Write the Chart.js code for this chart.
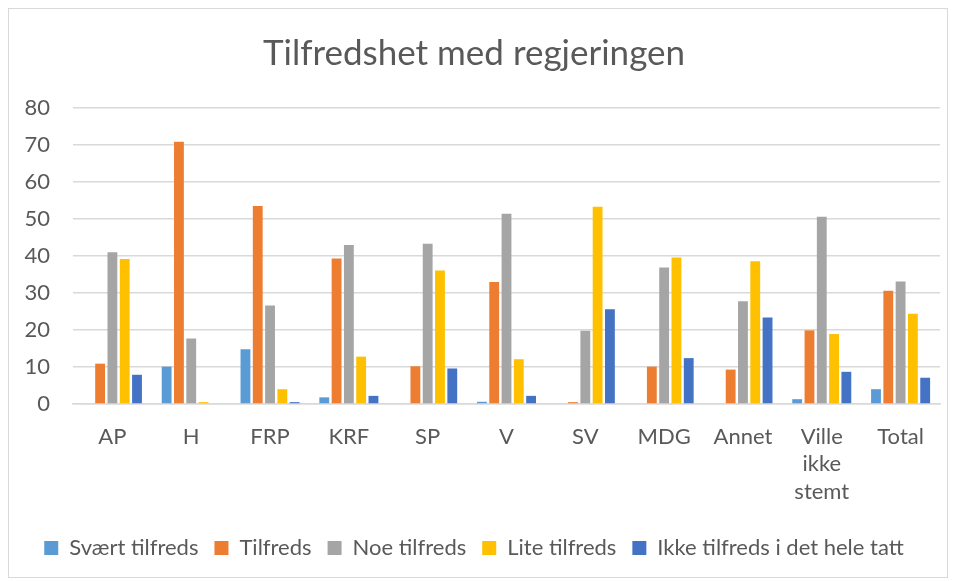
<!DOCTYPE html>
<html>
<head>
<meta charset="utf-8">
<script src="https://cdn.jsdelivr.net/npm/chart.js@4"></script>
<style>
  html, body { margin: 0; padding: 0; background: #fff; }
  #wrap { position: relative; width: 956px; height: 581px; }
  #frame { position: absolute; left: 8px; top: 8px; width: 940px; height: 570px; border: 1px solid #d9d9d9; box-sizing: border-box; pointer-events: none; }
</style>
</head>
<body>
<div id="wrap">
  <canvas id="grafica" width="956" height="581"></canvas>
  <div id="frame"></div>
</div>
<script>
// Tilfredshet med regjeringen - data
const partier = ['AP', 'H', 'FRP', 'KRF', 'SP', 'V', 'SV', 'MDG', 'Annet', ['Ville', 'ikke', 'stemt'], 'Total'];
const svaertTilfreds = [0.2, 10.1, 14.8, 1.8, 0, 0.6, 0.2, 0.2, 0.2, 1.3, 4.0];
const tilfreds = [10.9, 70.9, 53.5, 39.3, 10.2, 33.0, 0.5, 10.1, 9.3, 19.9, 30.6];
const noeTilfreds = [41.0, 17.7, 26.6, 43.0, 43.3, 51.4, 19.8, 36.9, 27.8, 50.6, 33.1];
const liteTilfreds = [39.2, 0.5, 4.0, 12.8, 36.1, 12.1, 53.3, 39.6, 38.6, 18.9, 24.4];
const ikkeTilfreds = [7.9, 0, 0.5, 2.2, 9.6, 2.2, 25.6, 12.4, 23.4, 8.7, 7.1];
const yTicks = [0, 10, 20, 30, 40, 50, 60, 70, 80];

const fontFam = 'Lato, "Open Sans", sans-serif';
const grå = '#595959';

const ctx = document.getElementById('grafica').getContext('2d');
const grafica = new Chart(ctx, {
    type: 'bar',
    data: {
        labels: partier,
        datasets: [
            { label: 'Svært tilfreds', data: svaertTilfreds, backgroundColor: '#5B9BD5' },
            { label: 'Tilfreds', data: tilfreds, backgroundColor: '#ED7D31' },
            { label: 'Noe tilfreds', data: noeTilfreds, backgroundColor: '#A5A5A5' },
            { label: 'Lite tilfreds', data: liteTilfreds, backgroundColor: '#FFC000' },
            { label: 'Ikke tilfreds i det hele tatt', data: ikkeTilfreds, backgroundColor: '#4472C4' }
        ]
    },
    options: {
        responsive: false,
        animation: false,
        categoryPercentage: 0.78,
        barPercentage: 0.8,
        layout: { padding: { left: 8, right: 16, top: 10, bottom: 12 } },
        plugins: {
            legend: {
                position: 'bottom',
                labels: { boxWidth: 14, boxHeight: 14, padding: 16, color: grå, font: { family: fontFam, size: 22 } }
            },
            title: {
                display: true,
                text: 'Tilfredshet med regjeringen',
                color: grå,
                font: { family: fontFam, size: 35, weight: 'normal' },
                padding: { top: 23, bottom: 33 }
            },
            tooltip: { enabled: false }
        },
        scales: {
            x: {
                afterFit: (s) => { s.height = 117; },
                grid: { display: false },
                border: { color: '#d9d9d9', width: 1.5 },
                ticks: { color: grå, font: { family: fontFam, size: 22, lineHeight: 1.25 }, maxRotation: 0, padding: 11 }
            },
            y: {
                min: 0,
                max: 80,
                afterFit: (s) => { s.width = 65; },
                afterBuildTicks: (s) => { s.ticks = yTicks.map(v => ({ value: v })); },
                grid: { color: '#d9d9d9', lineWidth: 1.5, drawTicks: false },
                border: { display: false },
                ticks: { color: grå, font: { family: fontFam, size: 22 }, padding: 23 }
            }
        }
    }
});
</script>
</body>
</html>
